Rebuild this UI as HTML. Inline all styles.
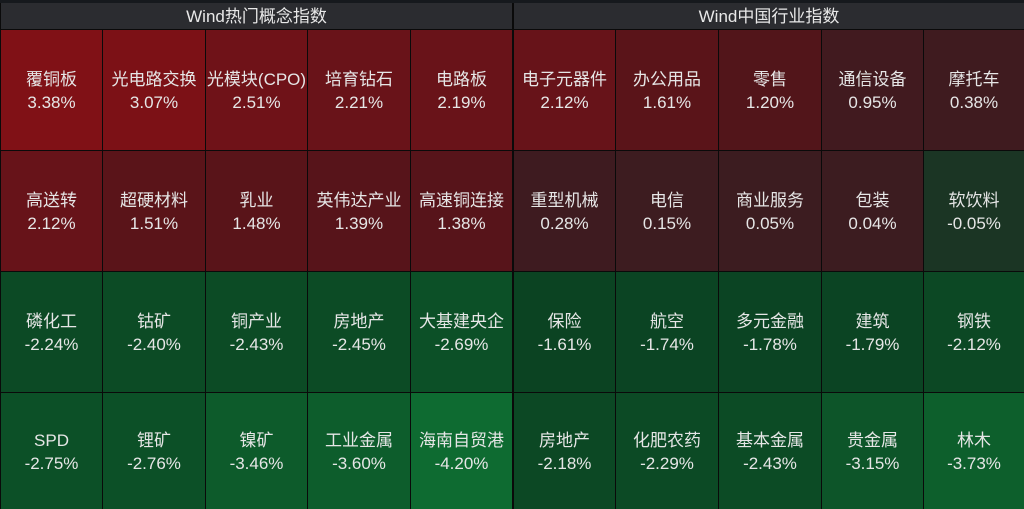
<!DOCTYPE html><html><head><meta charset="utf-8"><style>
body{margin:0;width:1024px;height:509px;background:#0a0a0a;overflow:hidden;font-family:"Liberation Sans","Noto Sans CJK SC",sans-serif;}
.h{position:absolute;top:3px;height:26px;background:#2b2c30;color:#e8e8e8;font-size:17px;line-height:27px;text-align:center}
.c{position:absolute;color:#e6e6e6;font-size:17px;line-height:23px;text-align:center;display:flex;flex-direction:column;justify-content:center;padding-top:1px;box-sizing:border-box}
</style></head><body>
<div style="position:absolute;left:0;top:0;width:1024px;height:3px;background:#16191d"></div>
<div class="h" style="left:1px;width:511px">Wind热门概念指数</div>
<div class="h" style="left:514px;width:510px">Wind中国行业指数</div>
<div id="g"></div>
<script>
var L=[[1,101],[103,102],[206,101],[308,102],[411,101]],R=[[514,101],[616,102],[719,102],[822,101],[924,100]];
var rows=[[30,120],[151,120],[272,120],[393,116]];
var d=[
[["覆铜板","3.38%","#801116"],["光电路交换","3.07%","#7c1116"],["光模块(CPO)","2.51%","#6f1218"],["培育钻石","2.21%","#691319"],["电路板","2.19%","#691319"],
 ["电子元器件","2.12%","#671319"],["办公用品","1.61%","#5a1419"],["零售","1.20%","#52151a"],["通信设备","0.95%","#411a1f"],["摩托车","0.38%","#3f1b1f"]],
[["高送转","2.12%","#671319"],["超硬材料","1.51%","#5a1419"],["乳业","1.48%","#591419"],["英伟达产业","1.39%","#57141a"],["高速铜连接","1.38%","#57141a"],
 ["重型机械","0.28%","#3e1b20"],["电信","0.15%","#3d1c20"],["商业服务","0.05%","#3c1c20"],["包装","0.04%","#3c1c20"],["软饮料","-0.05%","#1b3524"]],
[["磷化工","-2.24%","#0c4a25"],["钴矿","-2.40%","#0c4b25"],["铜产业","-2.43%","#0c4b25"],["房地产","-2.45%","#0c4b25"],["大基建央企","-2.69%","#0c5027"],
 ["保险","-1.61%","#0b4322"],["航空","-1.74%","#0b4423"],["多元金融","-1.78%","#0b4423"],["建筑","-1.79%","#0b4423"],["钢铁","-2.12%","#0c4824"]],
[["SPD","-2.75%","#0c5027"],["锂矿","-2.76%","#0c5027"],["镍矿","-3.46%","#0d5b2b"],["工业金属","-3.60%","#0d5d2c"],["海南自贸港","-4.20%","#0e6b31"],
 ["房地产","-2.18%","#0c4824"],["化肥农药","-2.29%","#0c4a25"],["基本金属","-2.43%","#0c4b25"],["贵金属","-3.15%","#0d5529"],["林木","-3.73%","#0d5f2c"]]];
var h="";
for(var r=0;r<4;r++)for(var i=0;i<10;i++){var col=i<5?L[i]:R[i-5],c=d[r][i];
h+='<div class="c" style="left:'+col[0]+'px;top:'+rows[r][0]+'px;width:'+col[1]+'px;height:'+rows[r][1]+'px;background:'+c[2]+'"><div>'+c[0]+'</div><div>'+c[1]+'</div></div>';}
document.getElementById("g").innerHTML=h;
</script>
</body></html>
